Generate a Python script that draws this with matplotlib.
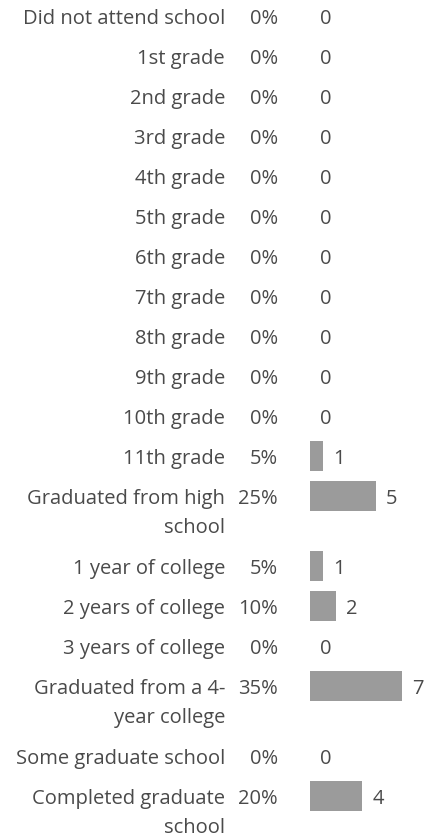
import matplotlib.pyplot as plt

categories = [
    "Did not attend school", "1st grade", "2nd grade", "3rd grade",
    "4th grade", "5th grade", "6th grade", "7th grade", "8th grade",
    "9th grade", "10th grade", "11th grade",
    "Graduated from high\nschool", "1 year of college",
    "2 years of college", "3 years of college",
    "Graduated from a 4-\nyear college", "Some graduate school",
    "Completed graduate\nschool",
]
percents = [0, 0, 0, 0, 0, 0, 0, 0, 0, 0, 0, 5, 25, 5, 10, 0, 35, 0, 20]
counts = [0, 0, 0, 0, 0, 0, 0, 0, 0, 0, 0, 1, 5, 1, 2, 0, 7, 0, 4]

W, H = 426, 837
TOP = 17
ROW_GAP = 40
EXTRA_LINE = 30      # extra row height per wrapped label line
LINE_GAP = 29        # baseline distance inside a wrapped label
BASE_DROP = 7        # baseline sits a little below the bar centre
PX_PER_UNIT = 13.1
BAR_X = 310
TEXT_COLOR = '#4a4a4a'
BAR_COLOR = '#9b9b9b'
FS = 14.5

plt.rcParams['font.family'] = ['Open Sans', 'DejaVu Sans']

fig = plt.figure(figsize=(W / 100, H / 100), dpi=100)
ax = fig.add_axes([0, 0, 1, 1])
ax.set_xlim(-BAR_X / PX_PER_UNIT, (W - BAR_X) / PX_PER_UNIT)
ax.set_ylim(H, 0)
ax.axis('off')

# row centres in pixel units, two-line labels push the next row down
ys = []
y = TOP
for cat in categories:
    ys.append(y)
    y += ROW_GAP + cat.count('\n') * EXTRA_LINE

ax.barh(ys, counts, height=30, left=0, color=BAR_COLOR)

for cat, pct, n, yc in zip(categories, percents, counts, ys):
    yb = yc + BASE_DROP
    for k, line in enumerate(cat.split('\n')):
        ax.annotate(line, (0, yb + k * LINE_GAP), xytext=(-85, 0),
                    textcoords='offset pixels', ha='right', va='baseline',
                    fontsize=FS, color=TEXT_COLOR)
    ax.annotate(f"{pct}%", (0, yb), xytext=(-32, 0),
                textcoords='offset pixels', ha='right', va='baseline',
                fontsize=FS, color=TEXT_COLOR)
    ax.annotate(str(n), (n, yb), xytext=(10, 0),
                textcoords='offset pixels', ha='left', va='baseline',
                fontsize=FS, color=TEXT_COLOR)

fig.savefig('out.png', dpi=100)
